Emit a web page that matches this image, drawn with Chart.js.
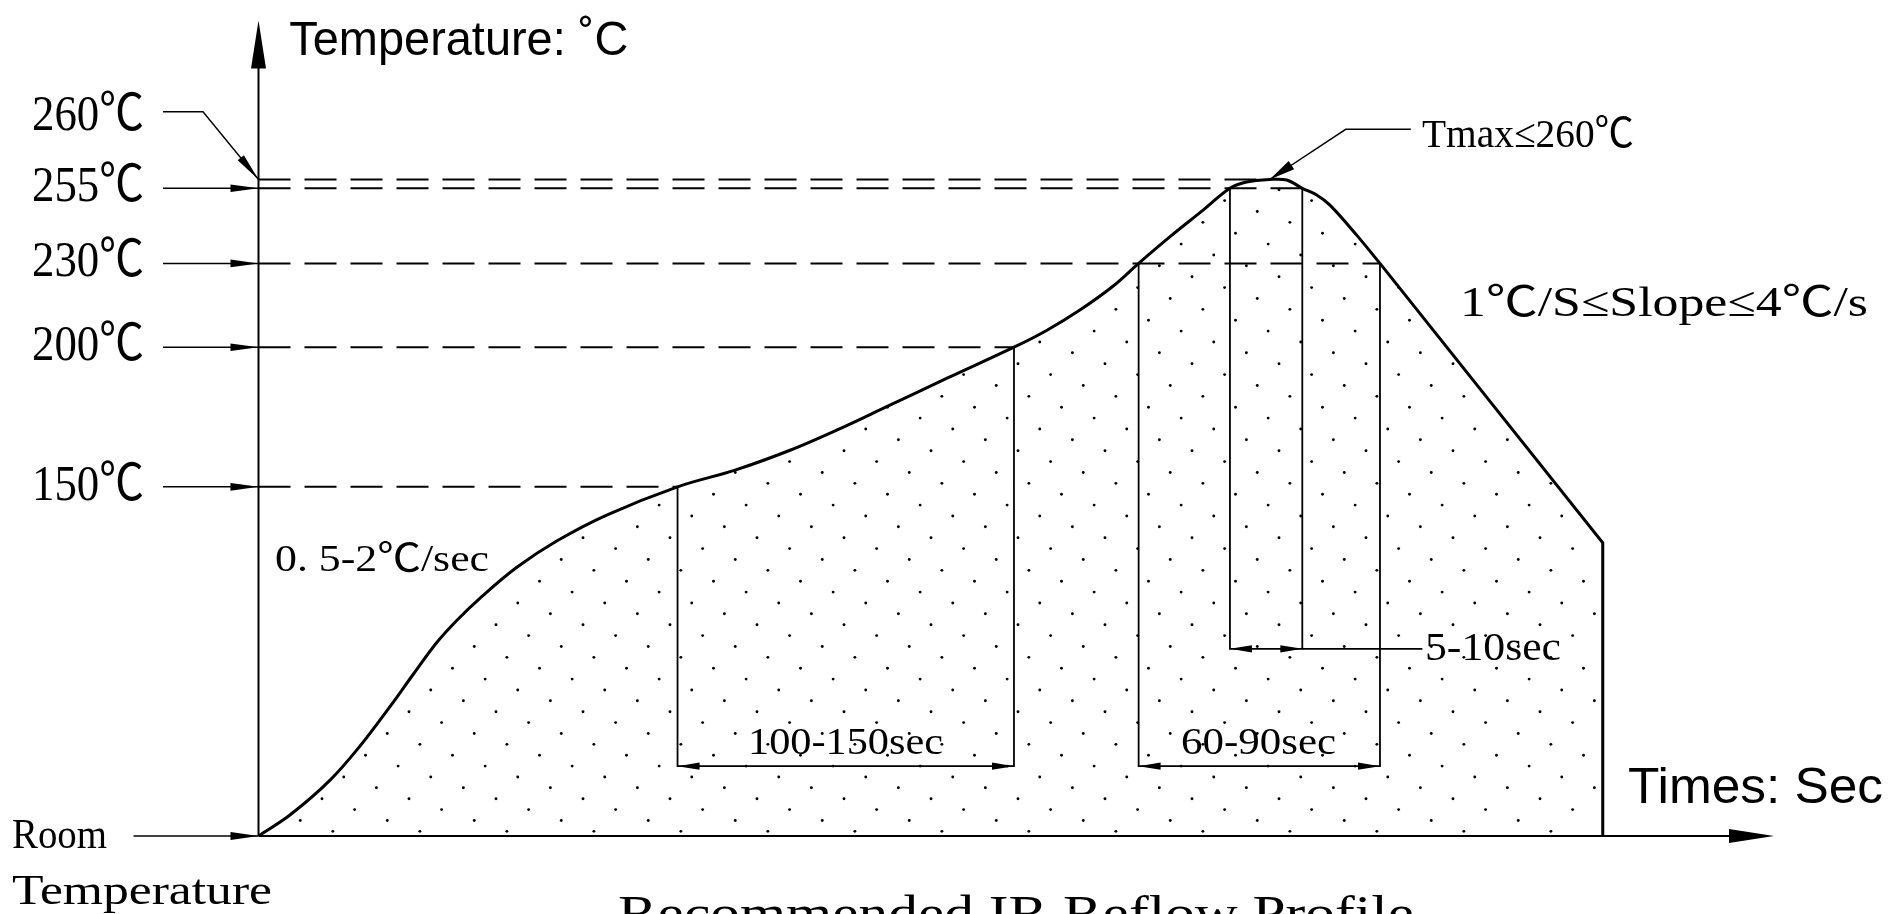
<!DOCTYPE html>
<html>
<head>
<meta charset="utf-8">
<script src="https://cdn.jsdelivr.net/npm/chart.js@4.4.1/dist/chart.umd.min.js"></script>
<style>
html,body{margin:0;padding:0;background:#fff;overflow:hidden}
#wrap{width:1903px;height:914px;position:relative}
</style>
</head>
<body>
<div id="wrap"><canvas id="c"></canvas></div>
<script>
// ---------------- data ----------------
const roomTemp = 25;
const timeMax = 400;
const tempMax = 317;
// heating / soak / reflow part of the profile (time in diagram units, temperature in °C)
const profileTime = [0, 8.3, 18.9, 26.8, 34.7, 40.9, 47.0, 52.7, 58.5, 68.1, 78.7, 91.9, 110.6,
  125.8, 140.3, 152.6, 165.8, 181.6, 199.4, 208.0, 216.8, 225.6, 232.3,
  240.6, 249.4, 256.4, 260.8, 266.9, 271.4, 275.5, 279.3, 282.8, 289.8, 296.0];
const profileTemp = [25, 32.5, 45.0, 57.2, 71.3, 83.0, 94.2, 102.7, 110.2, 121.1, 130.6, 139.9, 150,
  156.0, 163.1, 170.3, 178.7, 188.8, 200, 206.0, 213.3, 221.9, 230,
  238.9, 247.8, 255, 258.6, 260, 259.7, 255, 252.8, 249.4, 239.5, 230];
// cooling part
const coolTime = [296.0, 354.8, 354.8];
const coolTemp = [230, 130, 25];
// reference temperature levels
const levelTemps = [150, 200, 230, 255, 260];
const levelEnds = [110.6, 199.4, 296.0, 275.5, 266.9];
const tickLabels = ['150℃', '200℃', '230℃', '255℃', '260℃'];
// time-span dimensions
const spanLabels = ['100-150sec', '60-90sec', '5-10sec'];
const spanStart = [110.6, 232.3, 256.4];
const spanEnd = [199.4, 296.0, 275.5];
const spanStartTemp = [150, 230, 255];
const spanEndTemp = [200, 230, 255];
const spanLevel = [50, 50, 92];
const spanLeaderEnd = [null, null, 307.2];
const peakTime = 266.9, peakTemp = 260;

// ---------------- schematic (piecewise) temperature axis ----------------
const yBreakVals = [25, 230, 255, 260, 317];
const yBreakDec = [0, 0.70258, 0.79472, 0.80552, 1];
class PiecewiseScale extends Chart.LinearScale {
  static id = 'piecewise';
  static defaults = Chart.LinearScale.defaults;
  _dec(v) {
    const V = yBreakVals, D = yBreakDec;
    let i = 1;
    while (i < V.length - 1 && v > V[i]) i++;
    return D[i - 1] + (v - V[i - 1]) * (D[i] - D[i - 1]) / (V[i] - V[i - 1]);
  }
  getPixelForValue(v) {
    if (v === null || v === undefined || isNaN(v)) return NaN;
    return this.getPixelForDecimal(this._dec(v));
  }
  getValueForPixel(p) {
    const d = this.getDecimalForPixel(p), V = yBreakVals, D = yBreakDec;
    let i = 1;
    while (i < D.length - 1 && d > D[i]) i++;
    return V[i - 1] + (d - D[i - 1]) * (V[i] - V[i - 1]) / (D[i] - D[i - 1]);
  }
}
Chart.register(PiecewiseScale);

// ---------------- stipple pattern ----------------
function makeStipple() {
  const T = 87, k = T / 8, ox = 61, oy = 15.7;
  const c = document.createElement('canvas');
  c.width = T; c.height = T;
  const g = c.getContext('2d');
  g.fillStyle = '#000';
  for (let i = 0; i < 8; i++) {
    const n = (3 * i) % 8, m = i;
    const x = (ox + k * n) % T, y = (oy + k * m) % T;
    for (const dx of [-T, 0, T]) for (const dy of [-T, 0, T]) {
      g.beginPath(); g.arc(x + dx, y + dy, 1.45, 0, Math.PI * 2); g.fill();
    }
  }
  return g.createPattern(c, 'repeat');
}
const stipple = makeStipple();

const pts = (xs, ys) => xs.map((x, i) => ({ x, y: ys[i] }));
const datasets = [];
datasets.push({ data: pts(profileTime, profileTemp), borderColor: '#000', borderWidth: 3,
  fill: 'start', backgroundColor: stipple, tension: 0.35, pointRadius: 0, borderJoinStyle: 'round' });
datasets.push({ data: pts(coolTime, coolTemp), borderColor: '#000', borderWidth: 3,
  fill: 'start', backgroundColor: stipple, tension: 0, pointRadius: 0 });
levelTemps.forEach((t, i) => {
  datasets.push({ data: [{ x: 0, y: t }, { x: levelEnds[i], y: t }], borderColor: '#000', borderWidth: 2,
    borderDash: [32, 14], fill: false, tension: 0, pointRadius: 0 });
});
spanLabels.forEach((s, i) => {
  datasets.push({ data: [{ x: spanStart[i], y: spanStartTemp[i] }, { x: spanStart[i], y: spanLevel[i] },
    { x: spanEnd[i], y: spanLevel[i] }, { x: spanEnd[i], y: spanEndTemp[i] }],
    borderColor: '#000', borderWidth: 1.8, fill: false, tension: 0, pointRadius: 0 });
  if (spanLeaderEnd[i] !== null) {
    datasets.push({ data: [{ x: spanEnd[i], y: spanLevel[i] }, { x: spanLeaderEnd[i], y: spanLevel[i] }],
      borderColor: '#000', borderWidth: 1.6, fill: false, tension: 0, pointRadius: 0 });
  }
});

// ---------------- drawing helpers ----------------
const SERIF = '"Liberation Serif", "Noto Sans CJK SC", "DejaVu Serif", serif';
const SANS = '"Liberation Sans", Arial, sans-serif';
function fitText(ctx, s, x0, x1, baseline, capH, family, ratio) {
  ctx.save();
  ctx.font = (capH / ratio).toFixed(2) + 'px ' + family;
  ctx.textAlign = 'left'; ctx.textBaseline = 'alphabetic';
  const w = ctx.measureText(s).width;
  ctx.translate(x0, baseline);
  ctx.scale((x1 - x0) / w, 1);
  ctx.fillText(s, 0, 0);
  ctx.restore();
}
function poly(ctx, p, w) {
  ctx.beginPath(); ctx.lineWidth = w;
  ctx.moveTo(p[0][0], p[0][1]);
  for (let i = 1; i < p.length; i++) ctx.lineTo(p[i][0], p[i][1]);
  ctx.stroke();
}
function head(ctx, tx, ty, fx, fy, len, hw) {
  const dx = tx - fx, dy = ty - fy, L = Math.hypot(dx, dy), ux = dx / L, uy = dy / L;
  const bx = tx - ux * len, by = ty - uy * len;
  ctx.beginPath();
  ctx.moveTo(tx, ty);
  ctx.lineTo(bx - uy * hw, by + ux * hw);
  ctx.lineTo(bx + uy * hw, by - ux * hw);
  ctx.closePath(); ctx.fill();
}

const overlay = {
  id: 'overlay',
  beforeDraw(chart) {
    const c = chart.ctx; c.save(); c.fillStyle = '#fff'; c.fillRect(0, 0, chart.width, chart.height); c.restore();
  },
  afterDatasetsDraw(chart) {
    const ctx = chart.ctx, X = v => chart.scales.x.getPixelForValue(v), Y = v => chart.scales.y.getPixelForValue(v);
    const x0 = X(0), yb = Y(roomTemp), top = chart.chartArea.top - 0.5;
    ctx.save();
    ctx.strokeStyle = '#000'; ctx.fillStyle = '#000'; ctx.lineCap = 'butt';
    // axes
    poly(ctx, [[x0, yb], [x0, top + 10]], 2); head(ctx, x0, top, x0, yb, 48, 7.5);
    poly(ctx, [[x0, yb], [X(timeMax) - 10, yb]], 2); head(ctx, X(timeMax), yb, x0, yb, 45, 7);
    // level label arrows
    levelTemps.forEach((t, i) => {
      if (t === 260) {
        const p = [[163, 111.7], [203, 111.7], [x0, Y(t)]];
        poly(ctx, p, 1.4); head(ctx, x0, Y(t), 203, 111.7, 28, 4);
        fitText(ctx, tickLabels[i], 32, 144, 130, 33.5, SERIF, 0.66);
      } else {
        poly(ctx, [[163, Y(t)], [x0, Y(t)]], 1.5); head(ctx, x0, Y(t), 163, Y(t), 28, 3.8);
        fitText(ctx, tickLabels[i], 32, 144, Y(t) + 13, 34, SERIF, 0.66);
      }
    });
    // room temperature
    poly(ctx, [[133.5, yb], [x0, yb]], 1.5); head(ctx, x0, yb, 133.5, yb, 28, 4);
    fitText(ctx, 'Room', 12, 107, 848.3, 28.3, SERIF, 0.66);
    fitText(ctx, 'Temperature', 12, 272, 904, 27.5, SERIF, 0.66);
    // Tmax leader
    const px = X(peakTime), py = Y(peakTemp);
    poly(ctx, [[1410.8, 129.3], [1345.7, 129.3], [px, py]], 1.4);
    head(ctx, px, py, 1345.7, 129.3, 26, 5);
    // span arrows
    spanLabels.forEach((s, i) => {
      const a = X(spanStart[i]), b = X(spanEnd[i]), y = Y(spanLevel[i]);
      head(ctx, a, y, b, y, 22, 3.6); head(ctx, b, y, a, y, 22, 3.6);
    });
    // texts
    fitText(ctx, 'Temperature: ˚C', 289.3, 628.3, 55, 34.3, SANS, 0.716);
    fitText(ctx, 'Times: Sec', 1628, 1883, 802.7, 36, SANS, 0.716);
    fitText(ctx, 'Tmax≤260℃', 1422, 1634, 146.7, 26.7, SERIF, 0.66);
    fitText(ctx, '1℃/S≤Slope≤4℃/s', 1460, 1868, 316, 28, SERIF, 0.66);
    fitText(ctx, '0. 5-2℃/sec', 275, 489, 570.7, 25.7, SERIF, 0.66);
    fitText(ctx, spanLabels[0], 748, 943, 753.5, 25, SERIF, 0.66);
    fitText(ctx, spanLabels[1], 1181, 1336, 754, 24.5, SERIF, 0.66);
    fitText(ctx, spanLabels[2], 1425, 1561, 660, 26.5, SERIF, 0.66);
    fitText(ctx, 'Recommended IR Reflow Profile', 618, 1414, 928.7, 32, SERIF, 0.66);
    ctx.restore();
  }
};

new Chart(document.getElementById('c'), {
  type: 'line',
  data: { datasets },
  options: {
    responsive: true, maintainAspectRatio: false, animation: false, events: [],
    layout: { padding: { left: 258.5, right: 129, top: 21, bottom: 78 } },
    plugins: { legend: { display: false }, tooltip: { enabled: false } },
    scales: {
      x: { type: 'linear', min: 0, max: timeMax, display: false },
      y: { type: 'piecewise', min: roomTemp, max: tempMax, display: false }
    }
  },
  plugins: [overlay]
});
</script>
</body>
</html>
